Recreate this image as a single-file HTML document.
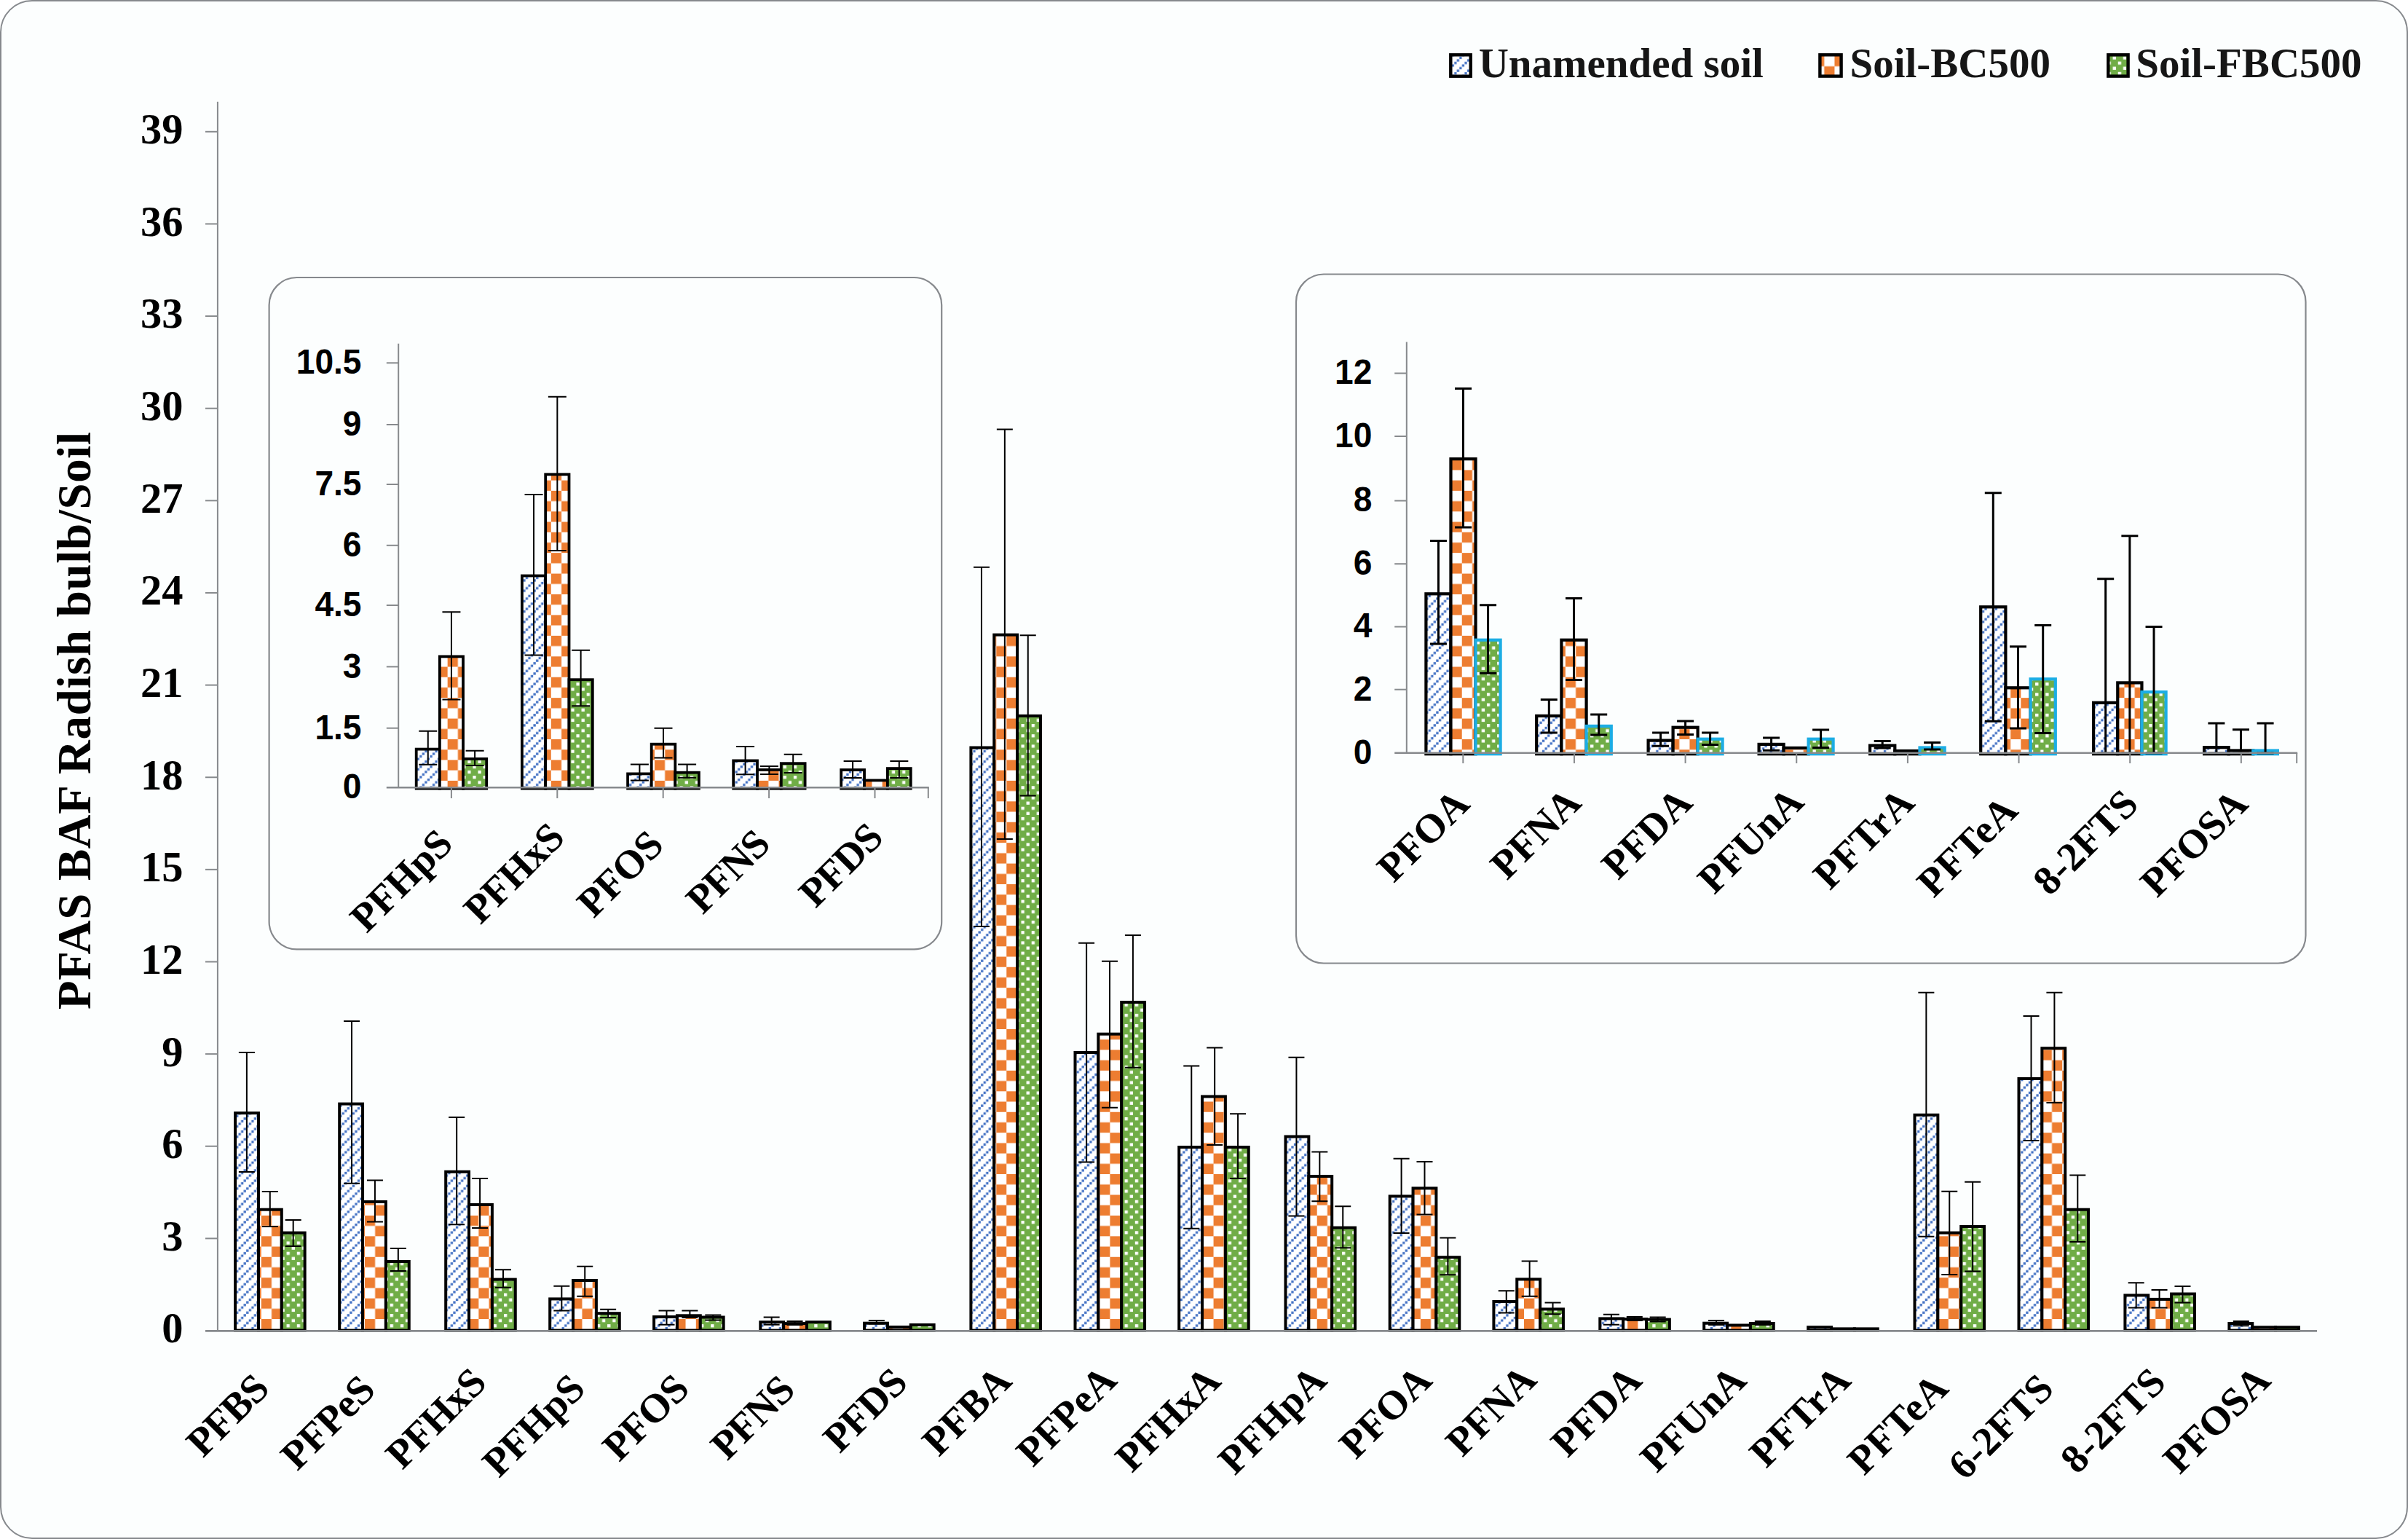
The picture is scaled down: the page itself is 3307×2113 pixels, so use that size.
<!DOCTYPE html>
<html><head><meta charset="utf-8"><title>PFAS BAF Radish bulb/Soil</title>
<style>html,body{margin:0;padding:0;background:#fff;}body{width:3307px;height:2113px;overflow:hidden;}svg{display:block;}
text{font-family:"Liberation Serif",serif;font-weight:bold;fill:#000;}
.sans{font-family:"Liberation Sans",sans-serif;font-weight:bold;}
.lg{fill:#161616;}
</style></head><body>
<svg width="3307" height="2113" viewBox="0 0 3307 2113">
<defs>
<pattern id="pb" patternUnits="userSpaceOnUse" x="11.18" y="13.64" width="14.21" height="14.21"><rect width="14.21" height="14.21" fill="#fff"/><rect x="10.79" y="0.13" width="3.3" height="3.3" fill="#4472C4"/><rect x="7.23" y="3.68" width="3.3" height="3.3" fill="#4472C4"/><rect x="3.68" y="7.23" width="3.3" height="3.3" fill="#4472C4"/><rect x="0.13" y="10.79" width="3.3" height="3.3" fill="#4472C4"/></pattern>
<pattern id="po" patternUnits="userSpaceOnUse" x="17.62" y="19.96" width="28.43" height="28.43"><rect width="28.43" height="28.43" fill="#fff"/><rect width="14.21" height="14.21" fill="#ED7D31"/><rect x="14.21" y="14.21" width="14.21" height="14.21" fill="#ED7D31"/></pattern>
<pattern id="pg" patternUnits="userSpaceOnUse" x="9.9" y="13.5" width="14.21" height="14.21"><rect width="14.21" height="14.21" fill="#70AD47"/><rect width="4.3" height="4.2" fill="#fff"/><rect x="7.11" y="7.11" width="4.3" height="4.2" fill="#fff"/></pattern>
</defs>
<rect x="1" y="1" width="3305" height="2111" rx="43" ry="43" fill="#FCFEFE" stroke="#86898d" stroke-width="2"/>
<rect x="323.1" y="1528.2" width="31.85" height="298.4" fill="url(#pb)" stroke="#000" stroke-width="4"/>
<rect x="354.95" y="1660.7" width="31.85" height="165.9" fill="url(#po)" stroke="#000" stroke-width="4"/>
<rect x="386.8" y="1692.6" width="31.85" height="134" fill="url(#pg)" stroke="#000" stroke-width="4"/>
<path d="M338.88 1445V1609M327.88 1445H349.88M327.88 1609H349.88" stroke="#000" stroke-width="2" fill="none"/>
<path d="M370.78 1636V1684M359.78 1636H381.78M359.78 1684H381.78" stroke="#000" stroke-width="2" fill="none"/>
<path d="M402.68 1675V1711M391.68 1675H413.68M391.68 1711H413.68" stroke="#000" stroke-width="2" fill="none"/>
<rect x="466.2" y="1515.6" width="31.85" height="311" fill="url(#pb)" stroke="#000" stroke-width="4"/>
<rect x="498.05" y="1650" width="31.85" height="176.6" fill="url(#po)" stroke="#000" stroke-width="4"/>
<rect x="529.9" y="1732" width="31.85" height="94.6" fill="url(#pg)" stroke="#000" stroke-width="4"/>
<path d="M483.03 1402V1624.8M472.03 1402H494.03M472.03 1624.8H494.03" stroke="#000" stroke-width="2" fill="none"/>
<path d="M514.93 1620.5V1677.4M503.93 1620.5H525.93M503.93 1677.4H525.93" stroke="#000" stroke-width="2" fill="none"/>
<path d="M546.83 1714V1745M535.83 1714H557.83M535.83 1745H557.83" stroke="#000" stroke-width="2" fill="none"/>
<rect x="612.2" y="1608.8" width="31.85" height="217.8" fill="url(#pb)" stroke="#000" stroke-width="4"/>
<rect x="644.05" y="1654" width="31.85" height="172.6" fill="url(#po)" stroke="#000" stroke-width="4"/>
<rect x="675.9" y="1756.6" width="31.85" height="70" fill="url(#pg)" stroke="#000" stroke-width="4"/>
<path d="M627.19 1534V1681.3M616.19 1534H638.19M616.19 1681.3H638.19" stroke="#000" stroke-width="2" fill="none"/>
<path d="M659.09 1618V1686M648.09 1618H670.09M648.09 1686H670.09" stroke="#000" stroke-width="2" fill="none"/>
<path d="M690.99 1743.3V1767.8M679.99 1743.3H701.99M679.99 1767.8H701.99" stroke="#000" stroke-width="2" fill="none"/>
<rect x="755.2" y="1783.4" width="31.85" height="43.2" fill="url(#pb)" stroke="#000" stroke-width="4"/>
<rect x="787.05" y="1758" width="31.85" height="68.6" fill="url(#po)" stroke="#000" stroke-width="4"/>
<rect x="818.9" y="1803.2" width="31.85" height="23.4" fill="url(#pg)" stroke="#000" stroke-width="4"/>
<path d="M771.34 1765.8V1799.5M760.34 1765.8H782.34M760.34 1799.5H782.34" stroke="#000" stroke-width="2" fill="none"/>
<path d="M803.24 1738.8V1779.7M792.24 1738.8H814.24M792.24 1779.7H814.24" stroke="#000" stroke-width="2" fill="none"/>
<path d="M835.14 1797.8V1809M824.14 1797.8H846.14M824.14 1809H846.14" stroke="#000" stroke-width="2" fill="none"/>
<rect x="898.1" y="1808" width="31.85" height="18.6" fill="url(#pb)" stroke="#000" stroke-width="4"/>
<rect x="929.95" y="1806.3" width="31.85" height="20.3" fill="url(#po)" stroke="#000" stroke-width="4"/>
<rect x="961.8" y="1808.5" width="31.85" height="18.1" fill="url(#pg)" stroke="#000" stroke-width="4"/>
<path d="M915.5 1799.5V1818.7M904.5 1799.5H926.5M904.5 1818.7H926.5" stroke="#000" stroke-width="2" fill="none"/>
<path d="M947.4 1799.5V1809M936.4 1799.5H958.4M936.4 1809H958.4" stroke="#000" stroke-width="2" fill="none"/>
<path d="M979.3 1805.5V1812.5M968.3 1805.5H990.3M968.3 1812.5H990.3" stroke="#000" stroke-width="2" fill="none"/>
<rect x="1044.3" y="1815.2" width="31.85" height="11.4" fill="url(#pb)" stroke="#000" stroke-width="4"/>
<rect x="1076.15" y="1817.1" width="31.85" height="9.5" fill="url(#po)" stroke="#000" stroke-width="4"/>
<rect x="1108" y="1815.2" width="31.85" height="11.4" fill="url(#pg)" stroke="#000" stroke-width="4"/>
<path d="M1059.65 1808.6V1818.7M1048.65 1808.6H1070.65M1048.65 1818.7H1070.65" stroke="#000" stroke-width="2" fill="none"/>
<path d="M1091.55 1814V1819M1080.55 1814H1102.55M1080.55 1819H1102.55" stroke="#000" stroke-width="2" fill="none"/>
<rect x="1187.1" y="1816.7" width="31.85" height="9.9" fill="url(#pb)" stroke="#000" stroke-width="4"/>
<rect x="1218.95" y="1822" width="31.85" height="4.6" fill="url(#po)" stroke="#000" stroke-width="4"/>
<rect x="1250.8" y="1819" width="31.85" height="7.6" fill="url(#pg)" stroke="#000" stroke-width="4"/>
<path d="M1203.81 1813V1817.5M1192.81 1813H1214.81M1192.81 1817.5H1214.81" stroke="#000" stroke-width="2" fill="none"/>
<rect x="1333.4" y="1026.5" width="31.85" height="800.1" fill="url(#pb)" stroke="#000" stroke-width="4"/>
<rect x="1365.25" y="871.6" width="31.85" height="955" fill="url(#po)" stroke="#000" stroke-width="4"/>
<rect x="1397.1" y="982.9" width="31.85" height="843.7" fill="url(#pg)" stroke="#000" stroke-width="4"/>
<path d="M1347.96 778.7V1272M1336.96 778.7H1358.96M1336.96 1272H1358.96" stroke="#000" stroke-width="2" fill="none"/>
<path d="M1379.86 589.5V1151.9M1368.86 589.5H1390.86M1368.86 1151.9H1390.86" stroke="#000" stroke-width="2" fill="none"/>
<path d="M1411.76 872.2V1092.6M1400.76 872.2H1422.76M1400.76 1092.6H1422.76" stroke="#000" stroke-width="2" fill="none"/>
<rect x="1476.5" y="1445" width="31.85" height="381.6" fill="url(#pb)" stroke="#000" stroke-width="4"/>
<rect x="1508.35" y="1419.7" width="31.85" height="406.9" fill="url(#po)" stroke="#000" stroke-width="4"/>
<rect x="1540.2" y="1376" width="31.85" height="450.6" fill="url(#pg)" stroke="#000" stroke-width="4"/>
<path d="M1492.12 1294.8V1595.5M1481.12 1294.8H1503.12M1481.12 1595.5H1503.12" stroke="#000" stroke-width="2" fill="none"/>
<path d="M1524.02 1319.7V1520.7M1513.02 1319.7H1535.02M1513.02 1520.7H1535.02" stroke="#000" stroke-width="2" fill="none"/>
<path d="M1555.92 1283.9V1465.7M1544.92 1283.9H1566.92M1544.92 1465.7H1566.92" stroke="#000" stroke-width="2" fill="none"/>
<rect x="1619.2" y="1575" width="31.85" height="251.6" fill="url(#pb)" stroke="#000" stroke-width="4"/>
<rect x="1651.05" y="1505.5" width="31.85" height="321.1" fill="url(#po)" stroke="#000" stroke-width="4"/>
<rect x="1682.9" y="1575" width="31.85" height="251.6" fill="url(#pg)" stroke="#000" stroke-width="4"/>
<path d="M1636.27 1463.4V1686.7M1625.27 1463.4H1647.27M1625.27 1686.7H1647.27" stroke="#000" stroke-width="2" fill="none"/>
<path d="M1668.17 1438.4V1572M1657.17 1438.4H1679.17M1657.17 1572H1679.17" stroke="#000" stroke-width="2" fill="none"/>
<path d="M1700.07 1529.2V1618M1689.07 1529.2H1711.07M1689.07 1618H1711.07" stroke="#000" stroke-width="2" fill="none"/>
<rect x="1765.5" y="1560.5" width="31.85" height="266.1" fill="url(#pb)" stroke="#000" stroke-width="4"/>
<rect x="1797.35" y="1615" width="31.85" height="211.6" fill="url(#po)" stroke="#000" stroke-width="4"/>
<rect x="1829.2" y="1685.6" width="31.85" height="141" fill="url(#pg)" stroke="#000" stroke-width="4"/>
<path d="M1780.43 1451.7V1669.6M1769.43 1451.7H1791.43M1769.43 1669.6H1791.43" stroke="#000" stroke-width="2" fill="none"/>
<path d="M1812.33 1581.5V1649.3M1801.33 1581.5H1823.33M1801.33 1649.3H1823.33" stroke="#000" stroke-width="2" fill="none"/>
<path d="M1844.23 1656.3V1713.3M1833.23 1656.3H1855.23M1833.23 1713.3H1855.23" stroke="#000" stroke-width="2" fill="none"/>
<rect x="1908.7" y="1642.4" width="31.85" height="184.2" fill="url(#pb)" stroke="#000" stroke-width="4"/>
<rect x="1940.55" y="1631.4" width="31.85" height="195.2" fill="url(#po)" stroke="#000" stroke-width="4"/>
<rect x="1972.4" y="1726.2" width="31.85" height="100.4" fill="url(#pg)" stroke="#000" stroke-width="4"/>
<path d="M1924.58 1590.8V1693M1913.58 1590.8H1935.58M1913.58 1693H1935.58" stroke="#000" stroke-width="2" fill="none"/>
<path d="M1956.48 1595V1667.6M1945.48 1595H1967.48M1945.48 1667.6H1967.48" stroke="#000" stroke-width="2" fill="none"/>
<path d="M1988.38 1699.6V1750.3M1977.38 1699.6H1999.38M1977.38 1750.3H1999.38" stroke="#000" stroke-width="2" fill="none"/>
<rect x="2051.4" y="1787" width="31.85" height="39.6" fill="url(#pb)" stroke="#000" stroke-width="4"/>
<rect x="2083.25" y="1756.4" width="31.85" height="70.2" fill="url(#po)" stroke="#000" stroke-width="4"/>
<rect x="2115.1" y="1797.4" width="31.85" height="29.2" fill="url(#pg)" stroke="#000" stroke-width="4"/>
<path d="M2068.74 1772.3V1802.6M2057.74 1772.3H2079.74M2057.74 1802.6H2079.74" stroke="#000" stroke-width="2" fill="none"/>
<path d="M2100.64 1731.6V1779.7M2089.64 1731.6H2111.64M2089.64 1779.7H2111.64" stroke="#000" stroke-width="2" fill="none"/>
<path d="M2132.54 1788.6V1804.3M2121.54 1788.6H2143.54M2121.54 1804.3H2143.54" stroke="#000" stroke-width="2" fill="none"/>
<rect x="2197.3" y="1810.4" width="31.85" height="16.2" fill="url(#pb)" stroke="#000" stroke-width="4"/>
<rect x="2229.15" y="1811.1" width="31.85" height="15.5" fill="url(#po)" stroke="#000" stroke-width="4"/>
<rect x="2261" y="1811.6" width="31.85" height="15" fill="url(#pg)" stroke="#000" stroke-width="4"/>
<path d="M2212.89 1804.8V1818.7M2201.89 1804.8H2223.89M2201.89 1818.7H2223.89" stroke="#000" stroke-width="2" fill="none"/>
<path d="M2244.79 1808V1813M2233.79 1808H2255.79M2233.79 1813H2255.79" stroke="#000" stroke-width="2" fill="none"/>
<path d="M2276.69 1808.5V1814.5M2265.69 1808.5H2287.69M2265.69 1814.5H2287.69" stroke="#000" stroke-width="2" fill="none"/>
<rect x="2340.2" y="1816.7" width="31.85" height="9.9" fill="url(#pb)" stroke="#000" stroke-width="4"/>
<rect x="2372.05" y="1819.5" width="31.85" height="7.1" fill="url(#po)" stroke="#000" stroke-width="4"/>
<rect x="2403.9" y="1817" width="31.85" height="9.6" fill="url(#pg)" stroke="#000" stroke-width="4"/>
<path d="M2357.05 1813V1819M2346.05 1813H2368.05M2346.05 1819H2368.05" stroke="#000" stroke-width="2" fill="none"/>
<path d="M2420.85 1814V1819M2409.85 1814H2431.85M2409.85 1819H2431.85" stroke="#000" stroke-width="2" fill="none"/>
<rect x="2483.2" y="1822.2" width="31.85" height="4.4" fill="url(#pb)" stroke="#000" stroke-width="4"/>
<rect x="2515.05" y="1824.4" width="31.85" height="2.2" fill="url(#po)" stroke="#000" stroke-width="4"/>
<rect x="2546.9" y="1824.4" width="31.85" height="2.2" fill="url(#pg)" stroke="#000" stroke-width="4"/>
<rect x="2629.5" y="1530.8" width="31.85" height="295.8" fill="url(#pb)" stroke="#000" stroke-width="4"/>
<rect x="2661.35" y="1692.6" width="31.85" height="134" fill="url(#po)" stroke="#000" stroke-width="4"/>
<rect x="2693.2" y="1684" width="31.85" height="142.6" fill="url(#pg)" stroke="#000" stroke-width="4"/>
<path d="M2645.36 1362.8V1697.7M2634.36 1362.8H2656.36M2634.36 1697.7H2656.36" stroke="#000" stroke-width="2" fill="none"/>
<path d="M2677.26 1635.7V1749.9M2666.26 1635.7H2688.26M2666.26 1749.9H2688.26" stroke="#000" stroke-width="2" fill="none"/>
<path d="M2709.16 1622.8V1745.6M2698.16 1622.8H2720.16M2698.16 1745.6H2720.16" stroke="#000" stroke-width="2" fill="none"/>
<rect x="2772.5" y="1481" width="31.85" height="345.6" fill="url(#pb)" stroke="#000" stroke-width="4"/>
<rect x="2804.35" y="1439.2" width="31.85" height="387.4" fill="url(#po)" stroke="#000" stroke-width="4"/>
<rect x="2836.2" y="1660.7" width="31.85" height="165.9" fill="url(#pg)" stroke="#000" stroke-width="4"/>
<path d="M2789.51 1395V1565.9M2778.51 1395H2800.51M2778.51 1565.9H2800.51" stroke="#000" stroke-width="2" fill="none"/>
<path d="M2821.41 1362.8V1514M2810.41 1362.8H2832.41M2810.41 1514H2832.41" stroke="#000" stroke-width="2" fill="none"/>
<path d="M2853.31 1613.5V1705M2842.31 1613.5H2864.31M2842.31 1705H2864.31" stroke="#000" stroke-width="2" fill="none"/>
<rect x="2918.4" y="1778.4" width="31.85" height="48.2" fill="url(#pb)" stroke="#000" stroke-width="4"/>
<rect x="2950.25" y="1783.9" width="31.85" height="42.7" fill="url(#po)" stroke="#000" stroke-width="4"/>
<rect x="2982.1" y="1776.5" width="31.85" height="50.1" fill="url(#pg)" stroke="#000" stroke-width="4"/>
<path d="M2933.67 1761.2V1795.5M2922.67 1761.2H2944.67M2922.67 1795.5H2944.67" stroke="#000" stroke-width="2" fill="none"/>
<path d="M2965.57 1771V1795.5M2954.57 1771H2976.57M2954.57 1795.5H2976.57" stroke="#000" stroke-width="2" fill="none"/>
<path d="M2997.47 1765.9V1788.5M2986.47 1765.9H3008.47M2986.47 1788.5H3008.47" stroke="#000" stroke-width="2" fill="none"/>
<rect x="3061.4" y="1817" width="31.85" height="9.6" fill="url(#pb)" stroke="#000" stroke-width="4"/>
<rect x="3093.25" y="1822.3" width="31.85" height="4.3" fill="url(#po)" stroke="#000" stroke-width="4"/>
<rect x="3125.1" y="1822.3" width="31.85" height="4.3" fill="url(#pg)" stroke="#000" stroke-width="4"/>
<path d="M3077.82 1814V1820.2M3066.82 1814H3088.82M3066.82 1820.2H3088.82" stroke="#000" stroke-width="2" fill="none"/>
<path d="M298.9 139.8V1827.4" stroke="#878a8d" stroke-width="2" fill="none"/>
<path d="M282 1827.4H3182" stroke="#878a8d" stroke-width="2.8" fill="none"/>
<text x="251.4" y="1843.4" text-anchor="end" font-size="58.5">0</text>
<path d="M282 1700.37H298.9" stroke="#878a8d" stroke-width="2" fill="none"/>
<text x="251.4" y="1716.77" text-anchor="end" font-size="58.5">3</text>
<path d="M282 1573.74H298.9" stroke="#878a8d" stroke-width="2" fill="none"/>
<text x="251.4" y="1590.14" text-anchor="end" font-size="58.5">6</text>
<path d="M282 1447.11H298.9" stroke="#878a8d" stroke-width="2" fill="none"/>
<text x="251.4" y="1463.51" text-anchor="end" font-size="58.5">9</text>
<path d="M282 1320.48H298.9" stroke="#878a8d" stroke-width="2" fill="none"/>
<text x="251.4" y="1336.88" text-anchor="end" font-size="58.5">12</text>
<path d="M282 1193.85H298.9" stroke="#878a8d" stroke-width="2" fill="none"/>
<text x="251.4" y="1210.25" text-anchor="end" font-size="58.5">15</text>
<path d="M282 1067.22H298.9" stroke="#878a8d" stroke-width="2" fill="none"/>
<text x="251.4" y="1083.62" text-anchor="end" font-size="58.5">18</text>
<path d="M282 940.59H298.9" stroke="#878a8d" stroke-width="2" fill="none"/>
<text x="251.4" y="956.99" text-anchor="end" font-size="58.5">21</text>
<path d="M282 813.96H298.9" stroke="#878a8d" stroke-width="2" fill="none"/>
<text x="251.4" y="830.36" text-anchor="end" font-size="58.5">24</text>
<path d="M282 687.33H298.9" stroke="#878a8d" stroke-width="2" fill="none"/>
<text x="251.4" y="703.73" text-anchor="end" font-size="58.5">27</text>
<path d="M282 560.7H298.9" stroke="#878a8d" stroke-width="2" fill="none"/>
<text x="251.4" y="577.1" text-anchor="end" font-size="58.5">30</text>
<path d="M282 434.07H298.9" stroke="#878a8d" stroke-width="2" fill="none"/>
<text x="251.4" y="450.47" text-anchor="end" font-size="58.5">33</text>
<path d="M282 307.44H298.9" stroke="#878a8d" stroke-width="2" fill="none"/>
<text x="251.4" y="323.84" text-anchor="end" font-size="58.5">36</text>
<path d="M282 180.81H298.9" stroke="#878a8d" stroke-width="2" fill="none"/>
<text x="251.4" y="197.21" text-anchor="end" font-size="58.5">39</text>
<text class="xl" transform="translate(372.5 1909) rotate(-45)" text-anchor="end" font-size="55.6" textLength="132.55" lengthAdjust="spacing">PFBS</text>
<text class="xl" transform="translate(518 1911) rotate(-45)" text-anchor="end" font-size="55.6" textLength="155.13" lengthAdjust="spacing">PFPeS</text>
<text class="xl" transform="translate(670.9 1901) rotate(-45)" text-anchor="end" font-size="55.6" textLength="167.35" lengthAdjust="spacing">PFHxS</text>
<text class="xl" transform="translate(806.4 1909.5) rotate(-45)" text-anchor="end" font-size="55.6" textLength="171.29" lengthAdjust="spacing">PFHpS</text>
<text class="xl" transform="translate(949.3 1909.5) rotate(-45)" text-anchor="end" font-size="55.6" textLength="139.97" lengthAdjust="spacing">PFOS</text>
<text class="xl" transform="translate(1094.5 1911) rotate(-45)" text-anchor="end" font-size="55.6" textLength="135.53" lengthAdjust="spacing">PFNS</text>
<text class="xl" transform="translate(1249 1901) rotate(-45)" text-anchor="end" font-size="55.6" textLength="135.53" lengthAdjust="spacing">PFDS</text>
<text class="xl" transform="translate(1391.9 1898.8) rotate(-45)" text-anchor="end" font-size="55.6">PFBA</text>
<text class="xl" transform="translate(1536.4 1897.8) rotate(-45)" text-anchor="end" font-size="55.6">PFPeA</text>
<text class="xl" transform="translate(1679.2 1898.8) rotate(-45)" text-anchor="end" font-size="55.6" textLength="176.45" lengthAdjust="spacing">PFHxA</text>
<text class="xl" transform="translate(1824.6 1898.2) rotate(-45)" text-anchor="end" font-size="55.6">PFHpA</text>
<text class="xl" transform="translate(1969.1 1898.2) rotate(-45)" text-anchor="end" font-size="55.6">PFOA</text>
<text class="xl" transform="translate(2113 1897.2) rotate(-45)" text-anchor="end" font-size="55.6">PFNA</text>
<text class="xl" transform="translate(2257.5 1898.2) rotate(-45)" text-anchor="end" font-size="55.6">PFDA</text>
<text class="xl" transform="translate(2401 1898) rotate(-45)" text-anchor="end" font-size="55.6" textLength="177.73" lengthAdjust="spacing">PFUnA</text>
<text class="xl" transform="translate(2544.5 1898.2) rotate(-45)" text-anchor="end" font-size="55.6" textLength="168.2" lengthAdjust="spacing">PFTrA</text>
<text class="xl" transform="translate(2678.4 1908.8) rotate(-45)" text-anchor="end" font-size="55.6" textLength="167.54" lengthAdjust="spacing">PFTeA</text>
<text class="xl" transform="translate(2823 1909.5) rotate(-45)" text-anchor="end" font-size="55.6">6-2FTS</text>
<text class="xl" transform="translate(2977 1901) rotate(-45)" text-anchor="end" font-size="55.6">8-2FTS</text>
<text class="xl" transform="translate(3121 1898.2) rotate(-45)" text-anchor="end" font-size="55.6" textLength="180.43" lengthAdjust="spacing">PFOSA</text>
<text transform="translate(123.8 1386) rotate(-90)" font-size="64.8" textLength="793" lengthAdjust="spacing">PFAS BAF Radish bulb/Soil</text>
<rect x="1992.3" y="75.3" width="27.4" height="29.4" fill="url(#pb)" stroke="#000" stroke-width="4.4"/>
<rect x="2499.4" y="75.3" width="29.2" height="29.3" fill="url(#po)" stroke="#000" stroke-width="4.4"/>
<rect x="2895.3" y="75.3" width="27.3" height="29.3" fill="url(#pg)" stroke="#000" stroke-width="4.4"/>
<text class="lg" x="2030.7" y="106.2" font-size="57">Unamended soil</text>
<text class="lg" x="2540.5" y="106.2" font-size="57">Soil-BC500</text>
<text class="lg" x="2933.2" y="106.2" font-size="57">Soil-FBC500</text>
<rect x="369.6" y="381" width="923.6" height="922.3" rx="38" ry="38" fill="#FCFEFE" stroke="#86898d" stroke-width="2.2"/>
<rect x="571.7" y="1028.6" width="32.17" height="54" fill="url(#pb)" stroke="#000" stroke-width="3.8"/>
<rect x="603.87" y="901.4" width="32.17" height="181.2" fill="url(#po)" stroke="#000" stroke-width="3.8"/>
<rect x="636.04" y="1041.9" width="32.17" height="40.7" fill="url(#pg)" stroke="#000" stroke-width="3.8"/>
<path d="M587.78 1003.7V1049.7M575.28 1003.7H600.28M575.28 1049.7H600.28" stroke="#000" stroke-width="2" fill="none"/>
<path d="M619.95 840.3V960.4M607.45 840.3H632.45M607.45 960.4H632.45" stroke="#000" stroke-width="2" fill="none"/>
<path d="M652.12 1030.7V1051M639.62 1030.7H664.62M639.62 1051H664.62" stroke="#000" stroke-width="2" fill="none"/>
<rect x="716.9" y="790.5" width="32.3" height="292.1" fill="url(#pb)" stroke="#000" stroke-width="3.8"/>
<rect x="749.2" y="651.3" width="32.3" height="431.3" fill="url(#po)" stroke="#000" stroke-width="3.8"/>
<rect x="781.5" y="933.2" width="32.3" height="149.4" fill="url(#pg)" stroke="#000" stroke-width="3.8"/>
<path d="M733.05 679V899.5M720.55 679H745.55M720.55 899.5H745.55" stroke="#000" stroke-width="2" fill="none"/>
<path d="M765.35 544.7V755.9M752.85 544.7H777.85M752.85 755.9H777.85" stroke="#000" stroke-width="2" fill="none"/>
<path d="M797.65 892.8V969.3M785.15 892.8H810.15M785.15 969.3H810.15" stroke="#000" stroke-width="2" fill="none"/>
<rect x="862.1" y="1062.4" width="32.6" height="20.2" fill="url(#pb)" stroke="#000" stroke-width="3.8"/>
<rect x="894.7" y="1021.7" width="32.6" height="60.9" fill="url(#po)" stroke="#000" stroke-width="3.8"/>
<rect x="927.3" y="1060.7" width="32.6" height="21.9" fill="url(#pg)" stroke="#000" stroke-width="3.8"/>
<path d="M878.4 1049.5V1071.5M865.9 1049.5H890.9M865.9 1071.5H890.9" stroke="#000" stroke-width="2" fill="none"/>
<path d="M911 999.7V1040.5M898.5 999.7H923.5M898.5 1040.5H923.5" stroke="#000" stroke-width="2" fill="none"/>
<path d="M943.6 1049.5V1067.8M931.1 1049.5H956.1M931.1 1067.8H956.1" stroke="#000" stroke-width="2" fill="none"/>
<rect x="1007.2" y="1044.4" width="32.8" height="38.2" fill="url(#pb)" stroke="#000" stroke-width="3.8"/>
<rect x="1040" y="1056.9" width="32.8" height="25.7" fill="url(#po)" stroke="#000" stroke-width="3.8"/>
<rect x="1072.8" y="1048.2" width="32.8" height="34.4" fill="url(#pg)" stroke="#000" stroke-width="3.8"/>
<path d="M1023.6 1025V1063.2M1011.1 1025H1036.1M1011.1 1063.2H1036.1" stroke="#000" stroke-width="2" fill="none"/>
<path d="M1056.4 1052V1063M1043.9 1052H1068.9M1043.9 1063H1068.9" stroke="#000" stroke-width="2" fill="none"/>
<path d="M1089.2 1035.8V1060.9M1076.7 1035.8H1101.7M1076.7 1060.9H1101.7" stroke="#000" stroke-width="2" fill="none"/>
<rect x="1155.2" y="1057" width="31.85" height="25.6" fill="url(#pb)" stroke="#000" stroke-width="3.8"/>
<rect x="1187.05" y="1071.4" width="31.85" height="11.2" fill="url(#po)" stroke="#000" stroke-width="3.8"/>
<rect x="1218.9" y="1055.1" width="31.85" height="27.5" fill="url(#pg)" stroke="#000" stroke-width="3.8"/>
<path d="M1171.12 1045V1068M1158.62 1045H1183.62M1158.62 1068H1183.62" stroke="#000" stroke-width="2" fill="none"/>
<path d="M1234.83 1045V1068M1222.33 1045H1247.33M1222.33 1068H1247.33" stroke="#000" stroke-width="2" fill="none"/>
<path d="M547.2 471.8V1081.3" stroke="#878a8d" stroke-width="2" fill="none"/>
<path d="M530.8 1081.3H1275.8" stroke="#878a8d" stroke-width="2.6" fill="none"/>
<text class="sans" transform="translate(496.5 1095.9) scale(0.945 1)" text-anchor="end" font-size="48.8">0</text>
<path d="M530.8 999.7H547.2" stroke="#878a8d" stroke-width="2" fill="none"/>
<text class="sans" transform="translate(496.5 1014.8) scale(0.945 1)" text-anchor="end" font-size="48.8">1.5</text>
<path d="M530.8 915.4H547.2" stroke="#878a8d" stroke-width="2" fill="none"/>
<text class="sans" transform="translate(496.5 930.5) scale(0.945 1)" text-anchor="end" font-size="48.8">3</text>
<path d="M530.8 831H547.2" stroke="#878a8d" stroke-width="2" fill="none"/>
<text class="sans" transform="translate(496.5 846.1) scale(0.945 1)" text-anchor="end" font-size="48.8">4.5</text>
<path d="M530.8 748.8H547.2" stroke="#878a8d" stroke-width="2" fill="none"/>
<text class="sans" transform="translate(496.5 763.9) scale(0.945 1)" text-anchor="end" font-size="48.8">6</text>
<path d="M530.8 665H547.2" stroke="#878a8d" stroke-width="2" fill="none"/>
<text class="sans" transform="translate(496.5 680.1) scale(0.945 1)" text-anchor="end" font-size="48.8">7.5</text>
<path d="M530.8 583H547.2" stroke="#878a8d" stroke-width="2" fill="none"/>
<text class="sans" transform="translate(496.5 598.1) scale(0.945 1)" text-anchor="end" font-size="48.8">9</text>
<path d="M530.8 498.3H547.2" stroke="#878a8d" stroke-width="2" fill="none"/>
<text class="sans" transform="translate(496.5 513.4) scale(0.945 1)" text-anchor="end" font-size="48.8">10.5</text>
<path d="M619.9 1081.3V1096" stroke="#878a8d" stroke-width="2" fill="none"/>
<path d="M765.3 1081.3V1096" stroke="#878a8d" stroke-width="2" fill="none"/>
<path d="M910.7 1081.3V1096" stroke="#878a8d" stroke-width="2" fill="none"/>
<path d="M1056.1 1081.3V1096" stroke="#878a8d" stroke-width="2" fill="none"/>
<path d="M1201.5 1081.3V1096" stroke="#878a8d" stroke-width="2" fill="none"/>
<path d="M1274.8 1081.3V1096" stroke="#878a8d" stroke-width="2" fill="none"/>
<text class="xl" transform="translate(624.6 1161.3) rotate(-45)" text-anchor="end" font-size="55.6" textLength="171.29" lengthAdjust="spacing">PFHpS</text>
<text class="xl" transform="translate(778.1 1152.5) rotate(-45)" text-anchor="end" font-size="55.6" textLength="167.35" lengthAdjust="spacing">PFHxS</text>
<text class="xl" transform="translate(914.2 1163) rotate(-45)" text-anchor="end" font-size="55.6" textLength="139.97" lengthAdjust="spacing">PFOS</text>
<text class="xl" transform="translate(1060.7 1161.3) rotate(-45)" text-anchor="end" font-size="55.6" textLength="135.53" lengthAdjust="spacing">PFNS</text>
<text class="xl" transform="translate(1215.9 1152.5) rotate(-45)" text-anchor="end" font-size="55.6" textLength="135.53" lengthAdjust="spacing">PFDS</text>
<rect x="1780" y="376.5" width="1386.5" height="946" rx="38" ry="38" fill="#FCFEFE" stroke="#86898d" stroke-width="2.2"/>
<rect x="1958.4" y="815.3" width="34.07" height="219.9" fill="url(#pb)" stroke="#000" stroke-width="4.2"/>
<rect x="1992.47" y="630.1" width="34.07" height="405.1" fill="url(#po)" stroke="#000" stroke-width="4.2"/>
<rect x="2026.54" y="878.7" width="34.07" height="156.5" fill="url(#pg)" stroke="#1CADE4" stroke-width="4.2"/>
<path d="M1975.43 742.6V883.9M1963.93 742.6H1986.93M1963.93 883.9H1986.93" stroke="#000" stroke-width="3" fill="none"/>
<path d="M2009.5 533.6V724M1998 533.6H2021M1998 724H2021" stroke="#000" stroke-width="3" fill="none"/>
<path d="M2043.58 830.8V924.3M2032.08 830.8H2055.07M2032.08 924.3H2055.07" stroke="#000" stroke-width="3" fill="none"/>
<rect x="2110.2" y="982.9" width="34.2" height="52.3" fill="url(#pb)" stroke="#000" stroke-width="4.2"/>
<rect x="2144.4" y="878.7" width="34.2" height="156.5" fill="url(#po)" stroke="#000" stroke-width="4.2"/>
<rect x="2178.6" y="996.9" width="34.2" height="38.3" fill="url(#pg)" stroke="#1CADE4" stroke-width="4.2"/>
<path d="M2127.3 960.5V1006M2115.8 960.5H2138.8M2115.8 1006H2138.8" stroke="#000" stroke-width="3" fill="none"/>
<path d="M2161.5 821.5V933.6M2150 821.5H2173M2150 933.6H2173" stroke="#000" stroke-width="3" fill="none"/>
<path d="M2195.7 981V1009.1M2184.2 981H2207.2M2184.2 1009.1H2207.2" stroke="#000" stroke-width="3" fill="none"/>
<rect x="2263.6" y="1016.6" width="34" height="18.6" fill="url(#pb)" stroke="#000" stroke-width="4.2"/>
<rect x="2297.6" y="998.7" width="34" height="36.5" fill="url(#po)" stroke="#000" stroke-width="4.2"/>
<rect x="2331.6" y="1014.7" width="34" height="20.5" fill="url(#pg)" stroke="#1CADE4" stroke-width="4.2"/>
<path d="M2280.6 1006V1024.2M2269.1 1006H2292.1M2269.1 1024.2H2292.1" stroke="#000" stroke-width="3" fill="none"/>
<path d="M2314.6 990V1008.6M2303.1 990H2326.1M2303.1 1008.6H2326.1" stroke="#000" stroke-width="3" fill="none"/>
<path d="M2348.6 1006V1022.4M2337.1 1006H2360.1M2337.1 1022.4H2360.1" stroke="#000" stroke-width="3" fill="none"/>
<rect x="2415.6" y="1021.9" width="34" height="13.3" fill="url(#pb)" stroke="#000" stroke-width="4.2"/>
<rect x="2449.6" y="1026.9" width="34" height="8.3" fill="url(#po)" stroke="#000" stroke-width="4.2"/>
<rect x="2483.6" y="1014.7" width="34" height="20.5" fill="url(#pg)" stroke="#1CADE4" stroke-width="4.2"/>
<path d="M2432.6 1013V1030.2M2421.1 1013H2444.1M2421.1 1030.2H2444.1" stroke="#000" stroke-width="3" fill="none"/>
<path d="M2500.6 1002V1026.5M2489.1 1002H2512.1M2489.1 1026.5H2512.1" stroke="#000" stroke-width="3" fill="none"/>
<rect x="2568.1" y="1023.6" width="34.2" height="11.6" fill="url(#pb)" stroke="#000" stroke-width="4.2"/>
<rect x="2602.3" y="1031" width="34.2" height="4.2" fill="url(#po)" stroke="#000" stroke-width="4.2"/>
<rect x="2636.5" y="1026.5" width="34.2" height="8.7" fill="url(#pg)" stroke="#1CADE4" stroke-width="4.2"/>
<path d="M2585.2 1017.5V1027M2573.7 1017.5H2596.7M2573.7 1027H2596.7" stroke="#000" stroke-width="3" fill="none"/>
<path d="M2653.6 1019.6V1028.9M2642.1 1019.6H2665.1M2642.1 1028.9H2665.1" stroke="#000" stroke-width="3" fill="none"/>
<rect x="2720.2" y="833.3" width="34.2" height="201.9" fill="url(#pb)" stroke="#000" stroke-width="4.2"/>
<rect x="2754.4" y="944.3" width="34.2" height="90.9" fill="url(#po)" stroke="#000" stroke-width="4.2"/>
<rect x="2788.6" y="932.3" width="34.2" height="102.9" fill="url(#pg)" stroke="#1CADE4" stroke-width="4.2"/>
<path d="M2737.3 676.8V990.3M2725.8 676.8H2748.8M2725.8 990.3H2748.8" stroke="#000" stroke-width="3" fill="none"/>
<path d="M2771.5 887.8V1000M2760 887.8H2783M2760 1000H2783" stroke="#000" stroke-width="3" fill="none"/>
<path d="M2805.7 858.5V1006.5M2794.2 858.5H2817.2M2794.2 1006.5H2817.2" stroke="#000" stroke-width="3" fill="none"/>
<rect x="2875.1" y="964.8" width="33.17" height="70.4" fill="url(#pb)" stroke="#000" stroke-width="4.2"/>
<rect x="2908.27" y="937.4" width="33.17" height="97.8" fill="url(#po)" stroke="#000" stroke-width="4.2"/>
<rect x="2941.44" y="950.1" width="33.17" height="85.1" fill="url(#pg)" stroke="#1CADE4" stroke-width="4.2"/>
<path d="M2891.68 794.7V1034M2880.18 794.7H2903.18M2880.18 1034H2903.18" stroke="#000" stroke-width="3" fill="none"/>
<path d="M2924.86 735.7V1034M2913.36 735.7H2936.36M2913.36 1034H2936.36" stroke="#000" stroke-width="3" fill="none"/>
<path d="M2958.03 860.5V1034M2946.53 860.5H2969.53M2946.53 1034H2969.53" stroke="#000" stroke-width="3" fill="none"/>
<rect x="3027.1" y="1026.2" width="33.6" height="9" fill="url(#pb)" stroke="#000" stroke-width="4.2"/>
<rect x="3060.7" y="1030.5" width="33.6" height="4.7" fill="url(#po)" stroke="#000" stroke-width="4.2"/>
<rect x="3094.3" y="1030.5" width="33.6" height="4.7" fill="url(#pg)" stroke="#1CADE4" stroke-width="4.2"/>
<path d="M3043.9 993V1034M3032.4 993H3055.4M3032.4 1034H3055.4" stroke="#000" stroke-width="3" fill="none"/>
<path d="M3077.5 1001.8V1034M3066 1001.8H3089M3066 1034H3089" stroke="#000" stroke-width="3" fill="none"/>
<path d="M3111.1 993V1034M3099.6 993H3122.6M3099.6 1034H3122.6" stroke="#000" stroke-width="3" fill="none"/>
<path d="M1931.8 469.6V1034" stroke="#878a8d" stroke-width="2" fill="none"/>
<path d="M1915.2 1033.8H3155.2" stroke="#878a8d" stroke-width="2.4" fill="none"/>
<text class="sans" transform="translate(1884.3 1048.6) scale(0.945 1)" text-anchor="end" font-size="48.8">0</text>
<path d="M1915.2 946.7H1931.8" stroke="#878a8d" stroke-width="2" fill="none"/>
<text class="sans" transform="translate(1884.3 961.5) scale(0.945 1)" text-anchor="end" font-size="48.8">2</text>
<path d="M1915.2 860.5H1931.8" stroke="#878a8d" stroke-width="2" fill="none"/>
<text class="sans" transform="translate(1884.3 875.3) scale(0.945 1)" text-anchor="end" font-size="48.8">4</text>
<path d="M1915.2 774.2H1931.8" stroke="#878a8d" stroke-width="2" fill="none"/>
<text class="sans" transform="translate(1884.3 789) scale(0.945 1)" text-anchor="end" font-size="48.8">6</text>
<path d="M1915.2 687.5H1931.8" stroke="#878a8d" stroke-width="2" fill="none"/>
<text class="sans" transform="translate(1884.3 702.3) scale(0.945 1)" text-anchor="end" font-size="48.8">8</text>
<path d="M1915.2 599H1931.8" stroke="#878a8d" stroke-width="2" fill="none"/>
<text class="sans" transform="translate(1884.3 613.8) scale(0.945 1)" text-anchor="end" font-size="48.8">10</text>
<path d="M1915.2 512.5H1931.8" stroke="#878a8d" stroke-width="2" fill="none"/>
<text class="sans" transform="translate(1884.3 527.3) scale(0.945 1)" text-anchor="end" font-size="48.8">12</text>
<path d="M2009.3 1034V1048" stroke="#878a8d" stroke-width="2" fill="none"/>
<path d="M2161.95 1034V1048" stroke="#878a8d" stroke-width="2" fill="none"/>
<path d="M2314.6 1034V1048" stroke="#878a8d" stroke-width="2" fill="none"/>
<path d="M2467.25 1034V1048" stroke="#878a8d" stroke-width="2" fill="none"/>
<path d="M2619.9 1034V1048" stroke="#878a8d" stroke-width="2" fill="none"/>
<path d="M2772.55 1034V1048" stroke="#878a8d" stroke-width="2" fill="none"/>
<path d="M2925.2 1034V1048" stroke="#878a8d" stroke-width="2" fill="none"/>
<path d="M3077.85 1034V1048" stroke="#878a8d" stroke-width="2" fill="none"/>
<path d="M3154.2 1034V1048" stroke="#878a8d" stroke-width="2" fill="none"/>
<text class="xl" transform="translate(2020.9 1106.5) rotate(-45)" text-anchor="end" font-size="55.6">PFOA</text>
<text class="xl" transform="translate(2174.2 1104.9) rotate(-45)" text-anchor="end" font-size="55.6">PFNA</text>
<text class="xl" transform="translate(2327 1104.9) rotate(-45)" text-anchor="end" font-size="55.6">PFDA</text>
<text class="xl" transform="translate(2479.8 1103.8) rotate(-45)" text-anchor="end" font-size="55.6" textLength="177.73" lengthAdjust="spacing">PFUnA</text>
<text class="xl" transform="translate(2632 1104.9) rotate(-45)" text-anchor="end" font-size="55.6" textLength="168.2" lengthAdjust="spacing">PFTrA</text>
<text class="xl" transform="translate(2774 1115.7) rotate(-45)" text-anchor="end" font-size="55.6" textLength="167.54" lengthAdjust="spacing">PFTeA</text>
<text class="xl" transform="translate(2939.3 1107) rotate(-45)" text-anchor="end" font-size="55.6">8-2FTS</text>
<text class="xl" transform="translate(3089.8 1106.5) rotate(-45)" text-anchor="end" font-size="55.6" textLength="180.43" lengthAdjust="spacing">PFOSA</text>
</svg></body></html>
